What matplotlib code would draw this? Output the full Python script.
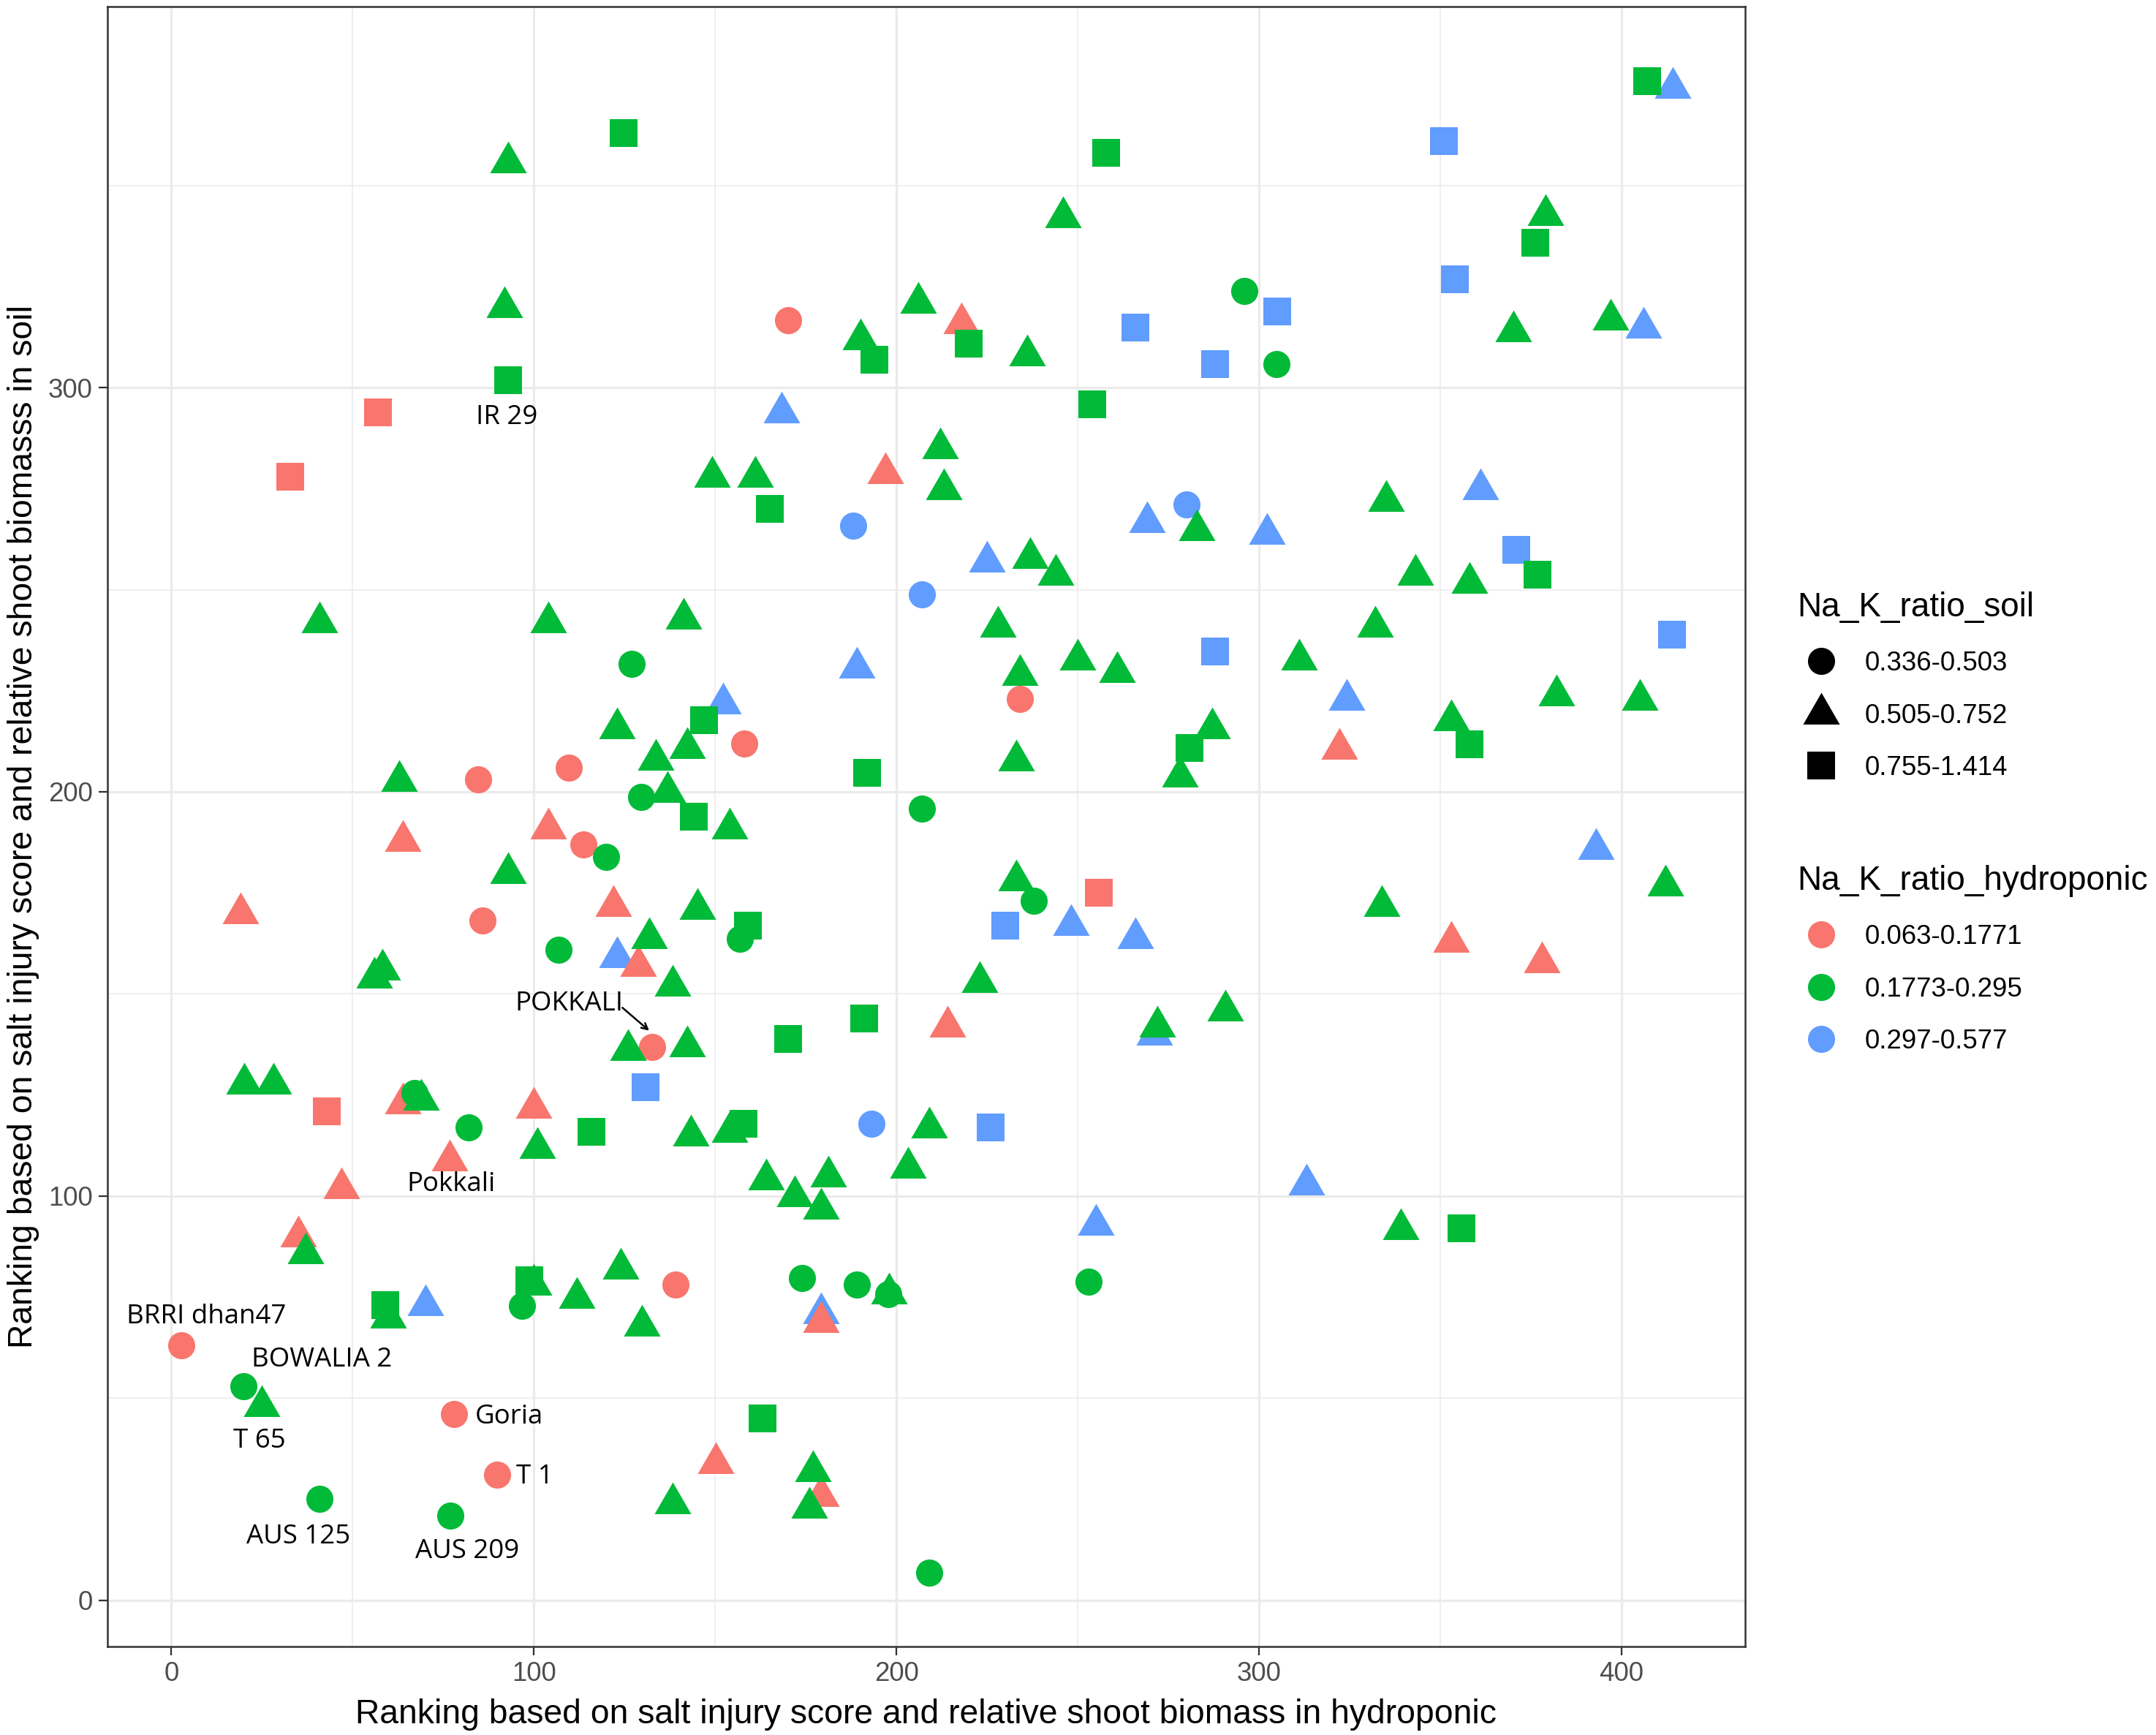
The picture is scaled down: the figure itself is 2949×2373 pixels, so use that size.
import matplotlib
matplotlib.use("Agg")
import matplotlib.pyplot as plt
from matplotlib.path import Path
from matplotlib.lines import Line2D
from matplotlib.ticker import MultipleLocator

plt.rcParams['font.family'] = ['Liberation Sans', 'DejaVu Sans']

# rank in hydroponic (x) and rank in soil (y), split by Na/K class
# colour = hydroponic class, shape = soil class

red_circle_x = [170.1, 109.7, 84.7, 158.0, 113.7, 85.8, 132.7, 234.1, 139.1, 2.8, 77.9, 89.8]
red_circle_y = [316.7, 206.0, 203.0, 211.9, 187.0, 168.1, 136.9, 222.9, 78.1, 63.1, 46.0, 31.0]

red_triangle_x = [217.9, 197.0, 63.9, 103.9, 19.0, 122.0, 128.8, 63.9, 100.0, 76.8,
                  46.9, 35.0, 214.1, 179.1, 150.1, 179.1, 322.1, 353.0, 378.0]
red_triangle_y = [315.9, 278.8, 187.9, 191.0, 170.0, 171.8, 157.0, 123.0, 121.9, 108.9,
                  102.0, 90.0, 142.0, 68.8, 34.0, 25.9, 210.6, 163.0, 157.8]

red_square_x = [56.9, 32.8, 42.9, 255.8]
red_square_y = [293.9, 278.0, 120.9, 175.1]

green_circle_x = [296.0, 304.8, 126.9, 129.6, 207.0, 119.9, 106.7, 237.8, 156.9, 81.9,
                  67.0, 96.8, 174.0, 189.1, 197.8, 253.0, 19.8, 40.8, 76.9, 209.0]
green_circle_y = [323.9, 305.8, 231.6, 198.7, 195.8, 183.9, 160.9, 173.0, 163.7, 116.9,
                  125.5, 72.8, 79.8, 78.1, 75.8, 78.9, 53.0, 25.0, 20.9, 6.9]

green_triangle_x = [92.9, 91.9, 246.0, 206.1, 190.1, 236.1, 379.1, 370.1, 397.0, 149.2,
                    161.0, 212.1, 213.1, 282.9, 236.9, 243.9, 40.9, 103.9, 141.2, 228.0,
                    122.9, 133.7, 62.9, 136.8, 142.2, 234.1, 250.0, 260.9, 233.1, 287.1,
                    278.1, 154.0, 335.0, 343.1, 358.1, 332.0, 311.1, 353.0, 382.1, 405.1,
                    92.9, 131.8, 58.1, 56.0, 125.9, 20.0, 28.1, 68.9, 101.0, 37.0,
                    59.9, 100.0, 111.8, 123.9, 129.8, 24.9, 145.2, 138.2, 142.2, 223.0,
                    233.0, 272.0, 290.6, 143.2, 154.0, 209.1, 164.0, 172.0, 181.1, 179.1,
                    203.1, 198.0, 177.0, 176.0, 138.2, 412.1, 333.9, 339.1]
green_triangle_y = [355.7, 319.9, 342.1, 321.0, 311.9, 308.0, 342.7, 313.9, 316.9, 278.0,
                    278.0, 285.0, 274.8, 264.8, 257.8, 253.8, 241.9, 241.9, 242.8, 240.8,
                    215.7, 208.0, 202.7, 200.0, 210.9, 228.9, 232.8, 229.7, 207.8, 215.7,
                    203.8, 191.0, 272.0, 253.8, 251.8, 240.8, 232.8, 217.8, 223.8, 222.8,
                    179.9, 163.8, 156.1, 154.0, 136.1, 127.8, 127.8, 123.9, 111.9, 85.8,
                    70.0, 78.1, 74.8, 82.1, 68.0, 48.0, 171.0, 152.0, 137.1, 153.0,
                    178.1, 142.0, 146.0, 115.0, 115.9, 117.0, 104.1, 99.9, 104.9, 96.9,
                    107.0, 75.9, 32.0, 22.9, 24.0, 176.8, 171.8, 91.8]

green_square_x = [124.8, 257.8, 407.1, 376.1, 92.8, 194.0, 220.0, 254.0, 165.0, 147.0,
                  191.9, 280.9, 144.0, 376.9, 358.0, 159.0, 170.1, 191.0, 115.8, 157.9,
                  58.9, 98.8, 163.0, 355.9]
green_square_y = [363.0, 358.0, 375.9, 335.8, 301.9, 306.9, 310.9, 295.9, 270.0, 217.7,
                  204.7, 210.9, 193.8, 253.8, 211.7, 166.9, 138.9, 144.0, 115.9, 117.9,
                  73.1, 79.1, 44.9, 92.0]

blue_circle_x = [188.1, 280.0, 207.0, 193.1]
blue_circle_y = [265.8, 271.1, 248.9, 117.9]

blue_triangle_x = [414.1, 406.1, 168.3, 269.1, 225.0, 189.1, 152.1, 361.0, 302.1, 324.1,
                   123.0, 248.1, 265.9, 271.1, 70.0, 179.1, 255.0, 313.0, 393.0]
blue_triangle_y = [374.1, 314.9, 293.9, 266.8, 256.9, 230.8, 221.8, 274.8, 263.8, 222.8,
                   159.1, 167.0, 163.9, 140.0, 73.0, 71.1, 92.9, 102.9, 185.9]

blue_square_x = [351.0, 354.0, 305.0, 265.8, 287.8, 371.0, 287.8, 414.0, 130.8, 229.9, 225.9]
blue_square_y = [360.9, 326.8, 318.8, 314.9, 305.8, 259.9, 234.8, 238.8, 127.0, 166.9, 116.9]

soil_labels = ['0.336-0.503', '0.505-0.752', '0.755-1.414']
hydro_labels = ['0.063-0.1771', '0.1773-0.295', '0.297-0.577']

# labelled genotypes
label_names = ['IR 29', 'POKKALI', 'Pokkali', 'BRRI dhan47', 'BOWALIA 2', 'T 65',
               'Goria', 'T 1', 'AUS 125', 'AUS 209']
label_x = [92.6, 109.7, 77.2, 9.7, 41.4, 24.3, 93.1, 100.3, 35.1, 81.7]
label_y = [292.6, 147.6, 102.9, 70.2, 59.5, 39.4, 45.3, 30.6, 15.6, 12.1]

RED, GREEN, BLUE = '#F8766D', '#00BA38', '#619CFF'

# triangle centred on its centroid, like R's pch 17
TRIANGLE = Path([(0, 1), (-0.866, -0.5), (0.866, -0.5), (0, 1)], closed=True)
markers = {'circle': 'o', 'triangle': TRIANGLE, 'square': 's'}
msize = {'circle': 8.9, 'triangle': 13.9, 'square': 9.1}

groups = [
    (blue_circle_x, blue_circle_y, 'circle', BLUE),
    (blue_triangle_x, blue_triangle_y, 'triangle', BLUE),
    (blue_square_x, blue_square_y, 'square', BLUE),
    (red_circle_x, red_circle_y, 'circle', RED),
    (red_triangle_x, red_triangle_y, 'triangle', RED),
    (red_square_x, red_square_y, 'square', RED),
    (green_circle_x, green_circle_y, 'circle', GREEN),
    (green_triangle_x, green_triangle_y, 'triangle', GREEN),
    (green_square_x, green_square_y, 'square', GREEN),
]

fig = plt.figure(figsize=(9.83, 7.91), dpi=300)
ax = fig.add_axes([0.0499, 0.0511, 0.7594, 0.9452])

for xs, ys, shape, col in groups:
    ax.scatter(xs, ys, s=msize[shape] ** 2, marker=markers[shape], color=col,
               linewidths=0, zorder=3)

for name, lx, ly in zip(label_names, label_x, label_y):
    ax.text(lx, ly, name, ha='center', va='center', fontsize=8.8,
            family=['Open Sans', 'DejaVu Sans'], color='black', zorder=4)

# leader line for POKKALI
ax.annotate('', xy=(131.8, 140.9), xytext=(124.4, 146.6),
            arrowprops=dict(arrowstyle='->', lw=0.6, color='black', mutation_scale=5,
                            shrinkA=0, shrinkB=0), zorder=4)

ax.set_xlim(-17.6, 434.0)
ax.set_ylim(-11.4, 394.3)
ax.xaxis.set_major_locator(MultipleLocator(100))
ax.yaxis.set_major_locator(MultipleLocator(100))
ax.xaxis.set_minor_locator(MultipleLocator(50))
ax.yaxis.set_minor_locator(MultipleLocator(50))

ax.set_axisbelow(True)
ax.grid(which='major', color='#EBEBEB', linewidth=0.77)
ax.grid(which='minor', color='#EBEBEB', linewidth=0.38)
for sp in ax.spines.values():
    sp.set_color('#333333')
    sp.set_linewidth(0.6)
ax.tick_params(which='major', length=2.9, width=0.55, color='#333333',
               labelsize=8.8, labelcolor='#4D4D4D', pad=2.0)
ax.tick_params(which='minor', length=0)

ax.set_xlabel('Ranking based on salt injury score and relative shoot biomass in hydroponic',
              fontsize=11.1, labelpad=3.8)
ax.set_ylabel('Ranking based on salt injury score and relative shoot biomasss in soil',
              fontsize=11.1, labelpad=2.9)

soil_handles = [Line2D([], [], linestyle='none', marker=markers[k], markersize=msize[k],
                       color='black', markeredgewidth=0)
                for k in ['circle', 'triangle', 'square']]
hydro_handles = [Line2D([], [], linestyle='none', marker='o', markersize=msize['circle'],
                        color=c, markeredgewidth=0) for c in [RED, GREEN, BLUE]]

leg_kw = dict(loc='upper left', frameon=False, alignment='left', borderpad=0,
              borderaxespad=0, handlelength=1.8, handletextpad=0.72, labelspacing=1.0,
              prop={'family': 'Liberation Sans', 'size': 8.8},
              title_fontproperties={'family': 'Liberation Sans', 'size': 11})
fig.legend(soil_handles, soil_labels, title='Na_K_ratio_soil',
           bbox_to_anchor=(0.8335, 0.659), **leg_kw)
fig.legend(hydro_handles, hydro_labels, title='Na_K_ratio_hydroponic',
           bbox_to_anchor=(0.8335, 0.5014), **leg_kw)

fig.savefig('out.png', dpi=300)
